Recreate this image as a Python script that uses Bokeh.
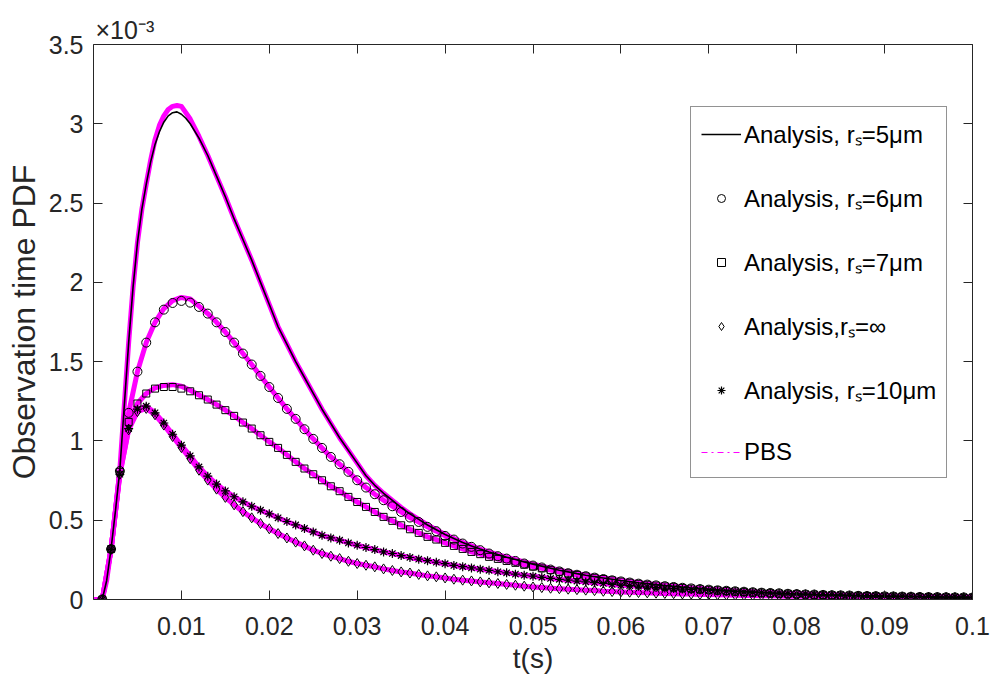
from bokeh.plotting import figure
from bokeh.models import Range1d, LinearAxis, FixedTicker, Legend, LegendItem
from bokeh.embed import file_html
from bokeh.resources import INLINE

# ---------------- data (PDF values in units of 1e-3) ----------------
t_ms = list(range(1, 101))            # marker sampling grid, ms
t = [v / 1000 for v in t_ms]
pbs_t_ms = list(range(0, 101))        # simulation grid, ms
pbs_t = [v / 1000 for v in pbs_t_ms]

# r_s = 5 um analysis curve (finer read-out over the steep rise and peak)
r5_t_ms = [1, 1.5, 2, 2.5, 3, 3.5, 4, 4.5, 5, 5.5, 6, 6.5, 7, 7.5, 8, 8.5, 9, 9.5, 10, 10.5,
           11, 12, 13, 14, 15, 16, 17, 18, 19, 20, 21, 22, 23, 24, 25, 26, 27, 28, 29, 30,
           31, 32, 33, 34, 35, 36, 37, 38, 39, 40, 41, 42, 43, 44, 45, 46, 47, 48, 49, 50,
           51, 52, 53, 54, 55, 56, 57, 58, 59, 60, 61, 62, 63, 64, 65, 66, 67, 68, 69, 70,
           71, 72, 73, 74, 75, 76, 77, 78, 79, 80, 81, 82, 83, 84, 85, 86, 87, 88, 89, 90,
           91, 92, 93, 94, 95, 96, 97, 98, 99, 100]
r5 = [0.000, 0.120, 0.320, 0.560, 0.820, 1.220, 1.620, 1.970, 2.250, 2.460,
      2.620, 2.760, 2.870, 2.950, 3.010, 3.050, 3.070, 3.075, 3.060, 3.035,
      3.000, 2.910, 2.800, 2.670, 2.540, 2.400, 2.270, 2.140, 2.000, 1.860,
      1.720, 1.610, 1.500, 1.400, 1.300, 1.200, 1.110, 1.020, 0.940, 0.860,
      0.780, 0.720, 0.670, 0.625, 0.580, 0.540, 0.505, 0.470, 0.440, 0.410,
      0.385, 0.360, 0.338, 0.318, 0.300, 0.283, 0.267, 0.252, 0.237, 0.223,
      0.210, 0.197, 0.185, 0.174, 0.163, 0.153, 0.144, 0.136, 0.128, 0.120,
      0.113, 0.106, 0.100, 0.094, 0.088, 0.083, 0.078, 0.073, 0.069, 0.065,
      0.061, 0.057, 0.054, 0.051, 0.048, 0.045, 0.042, 0.040, 0.037, 0.035,
      0.033, 0.031, 0.029, 0.028, 0.026, 0.025, 0.023, 0.022, 0.021, 0.020,
      0.019, 0.018, 0.017, 0.016, 0.015, 0.014, 0.014, 0.013, 0.012, 0.012]
r5_t = [v / 1000 for v in r5_t_ms]

r6 = [0.000, 0.318, 0.810, 1.177, 1.437, 1.620, 1.748, 1.828, 1.870, 1.883,
      1.872, 1.845, 1.803, 1.748, 1.687, 1.620, 1.551, 1.482, 1.410, 1.340,
      1.271, 1.202, 1.139, 1.074, 1.013, 0.956, 0.899, 0.853, 0.805, 0.752,
      0.706, 0.664, 0.626, 0.588, 0.552, 0.517, 0.489, 0.458, 0.431, 0.401,
      0.378, 0.353, 0.332, 0.311, 0.290, 0.273, 0.258, 0.243, 0.227, 0.214,
      0.202, 0.189, 0.177, 0.166, 0.156, 0.147, 0.138, 0.129, 0.121, 0.114,
      0.107, 0.100, 0.094, 0.089, 0.084, 0.079, 0.074, 0.070, 0.066, 0.062,
      0.058, 0.055, 0.052, 0.049, 0.046, 0.043, 0.041, 0.039, 0.036, 0.034,
      0.032, 0.031, 0.029, 0.027, 0.026, 0.025, 0.023, 0.022, 0.021, 0.020,
      0.019, 0.018, 0.017, 0.016, 0.015, 0.015, 0.014, 0.013, 0.013, 0.012]

r7 = [0.000, 0.318, 0.805, 1.120, 1.236, 1.299, 1.330, 1.340, 1.340, 1.330,
      1.313, 1.288, 1.261, 1.229, 1.194, 1.158, 1.116, 1.078, 1.036, 0.994,
      0.956, 0.912, 0.868, 0.826, 0.790, 0.752, 0.714, 0.683, 0.647, 0.615,
      0.584, 0.552, 0.521, 0.496, 0.468, 0.443, 0.420, 0.395, 0.378, 0.357,
      0.338, 0.319, 0.300, 0.286, 0.269, 0.256, 0.243, 0.231, 0.219, 0.207,
      0.196, 0.185, 0.175, 0.165, 0.155, 0.146, 0.137, 0.129, 0.121, 0.113,
      0.106, 0.099, 0.093, 0.088, 0.083, 0.078, 0.073, 0.069, 0.065, 0.061,
      0.058, 0.054, 0.051, 0.048, 0.045, 0.043, 0.040, 0.038, 0.036, 0.034,
      0.032, 0.030, 0.029, 0.027, 0.026, 0.024, 0.023, 0.022, 0.021, 0.020,
      0.019, 0.018, 0.017, 0.016, 0.015, 0.014, 0.014, 0.013, 0.012, 0.012]

r_inf = [0.000, 0.316, 0.790, 1.070, 1.185, 1.205, 1.165, 1.100, 1.028, 0.958,
         0.888, 0.815, 0.753, 0.696, 0.644, 0.597, 0.554, 0.515, 0.479, 0.446,
         0.416, 0.388, 0.362, 0.338, 0.311, 0.290, 0.273, 0.258, 0.241, 0.227,
         0.216, 0.206, 0.193, 0.183, 0.174, 0.167, 0.158, 0.149, 0.143, 0.136,
         0.128, 0.122, 0.117, 0.111, 0.105, 0.101, 0.095, 0.090, 0.084, 0.079,
         0.075, 0.071, 0.068, 0.065, 0.062, 0.059, 0.056, 0.052, 0.050, 0.048,
         0.046, 0.044, 0.042, 0.040, 0.038, 0.037, 0.035, 0.034, 0.032, 0.031,
         0.030, 0.028, 0.027, 0.026, 0.025, 0.024, 0.023, 0.022, 0.021, 0.021,
         0.020, 0.019, 0.018, 0.018, 0.017, 0.016, 0.016, 0.015, 0.015, 0.014,
         0.014, 0.013, 0.013, 0.012, 0.012, 0.011, 0.011, 0.011, 0.010, 0.010]

r10 = [0.000, 0.316, 0.790, 1.078, 1.200, 1.219, 1.177, 1.113, 1.042, 0.973,
       0.906, 0.836, 0.778, 0.728, 0.685, 0.648, 0.616, 0.588, 0.563, 0.540,
       0.515, 0.492, 0.470, 0.448, 0.426, 0.405, 0.388, 0.374, 0.357, 0.342,
       0.328, 0.315, 0.300, 0.290, 0.277, 0.265, 0.254, 0.245, 0.235, 0.226,
       0.215, 0.207, 0.199, 0.191, 0.184, 0.175, 0.168, 0.160, 0.153, 0.147,
       0.140, 0.133, 0.127, 0.122, 0.116, 0.111, 0.106, 0.101, 0.095, 0.090,
       0.087, 0.084, 0.080, 0.076, 0.072, 0.069, 0.066, 0.063, 0.060, 0.057,
       0.055, 0.052, 0.050, 0.047, 0.045, 0.043, 0.041, 0.039, 0.037, 0.036,
       0.034, 0.033, 0.031, 0.030, 0.029, 0.027, 0.026, 0.025, 0.024, 0.023,
       0.022, 0.021, 0.020, 0.019, 0.019, 0.018, 0.017, 0.017, 0.016, 0.015]

# PBS (particle-based simulation) band centres
pbs_r5_t_ms = [0] + r5_t_ms
pbs_r5_t = [v / 1000 for v in pbs_r5_t_ms]
pbs_r5 = [0.000,
          0.000, 0.120, 0.320, 0.560, 0.820, 1.220, 1.620, 1.970, 2.250, 2.460,
          2.620, 2.770, 2.900, 2.990, 3.050, 3.090, 3.110, 3.115, 3.110, 3.070,
          3.030, 2.920, 2.800, 2.670, 2.540, 2.400, 2.270, 2.140, 2.000, 1.860,
          1.720, 1.610, 1.500, 1.400, 1.300, 1.200, 1.110, 1.020, 0.940, 0.860,
          0.780, 0.720, 0.670, 0.625, 0.580, 0.540, 0.505, 0.470, 0.440, 0.410,
          0.385, 0.360, 0.338, 0.318, 0.300, 0.283, 0.267, 0.252, 0.237, 0.223,
          0.210, 0.197, 0.185, 0.174, 0.163, 0.153, 0.144, 0.136, 0.128, 0.120,
          0.113, 0.106, 0.100, 0.094, 0.088, 0.083, 0.078, 0.073, 0.069, 0.065,
          0.061, 0.057, 0.054, 0.051, 0.048, 0.045, 0.042, 0.040, 0.037, 0.035,
          0.033, 0.031, 0.029, 0.028, 0.026, 0.025, 0.023, 0.022, 0.021, 0.020,
          0.019, 0.018, 0.017, 0.016, 0.015, 0.014, 0.014, 0.013, 0.012, 0.012]
pbs_r6 = [0.000,
          0.000, 0.318, 0.810, 1.177, 1.437, 1.620, 1.748, 1.835, 1.885, 1.905,
          1.895, 1.850, 1.803, 1.748, 1.687, 1.620, 1.551, 1.482, 1.410, 1.340,
          1.271, 1.202, 1.139, 1.074, 1.013, 0.956, 0.899, 0.853, 0.805, 0.752,
          0.706, 0.664, 0.626, 0.588, 0.552, 0.517, 0.489, 0.458, 0.431, 0.401,
          0.378, 0.353, 0.332, 0.311, 0.290, 0.273, 0.258, 0.243, 0.227, 0.214,
          0.202, 0.189, 0.177, 0.166, 0.156, 0.147, 0.138, 0.129, 0.121, 0.114,
          0.107, 0.100, 0.094, 0.089, 0.084, 0.079, 0.074, 0.070, 0.066, 0.062,
          0.058, 0.055, 0.052, 0.049, 0.046, 0.043, 0.041, 0.039, 0.036, 0.034,
          0.032, 0.031, 0.029, 0.027, 0.026, 0.025, 0.023, 0.022, 0.021, 0.020,
          0.019, 0.018, 0.017, 0.016, 0.015, 0.015, 0.014, 0.013, 0.013, 0.012]
pbs_r7 = [0.000,
          0.000, 0.318, 0.805, 1.120, 1.236, 1.299, 1.335, 1.350, 1.355, 1.345,
          1.320, 1.290, 1.261, 1.229, 1.194, 1.158, 1.116, 1.078, 1.036, 0.994,
          0.956, 0.912, 0.868, 0.826, 0.790, 0.752, 0.714, 0.683, 0.647, 0.615,
          0.584, 0.552, 0.521, 0.496, 0.468, 0.443, 0.420, 0.395, 0.378, 0.357,
          0.338, 0.319, 0.300, 0.286, 0.269, 0.256, 0.243, 0.231, 0.219, 0.207,
          0.196, 0.185, 0.175, 0.165, 0.155, 0.146, 0.137, 0.129, 0.121, 0.113,
          0.106, 0.099, 0.093, 0.088, 0.083, 0.078, 0.073, 0.069, 0.065, 0.061,
          0.058, 0.054, 0.051, 0.048, 0.045, 0.043, 0.040, 0.038, 0.036, 0.034,
          0.032, 0.030, 0.029, 0.027, 0.026, 0.024, 0.023, 0.022, 0.021, 0.020,
          0.019, 0.018, 0.017, 0.016, 0.015, 0.014, 0.014, 0.013, 0.012, 0.012]
pbs_r_inf = [0.000,
             0.000, 0.316, 0.790, 1.070, 1.185, 1.205, 1.165, 1.100, 1.028, 0.958,
             0.888, 0.815, 0.753, 0.696, 0.644, 0.597, 0.554, 0.515, 0.479, 0.446,
             0.416, 0.388, 0.362, 0.338, 0.311, 0.290, 0.273, 0.258, 0.241, 0.227,
             0.216, 0.206, 0.193, 0.183, 0.174, 0.167, 0.158, 0.149, 0.143, 0.136,
             0.128, 0.122, 0.117, 0.111, 0.105, 0.101, 0.095, 0.090, 0.084, 0.079,
             0.075, 0.071, 0.068, 0.065, 0.062, 0.059, 0.056, 0.052, 0.050, 0.048,
             0.046, 0.044, 0.042, 0.040, 0.038, 0.037, 0.035, 0.034, 0.032, 0.031,
             0.030, 0.028, 0.027, 0.026, 0.025, 0.024, 0.023, 0.022, 0.021, 0.021,
             0.020, 0.019, 0.018, 0.018, 0.017, 0.016, 0.016, 0.015, 0.015, 0.014,
             0.014, 0.013, 0.013, 0.012, 0.012, 0.011, 0.011, 0.011, 0.010, 0.010]
pbs_r10 = [0.000,
           0.000, 0.316, 0.790, 1.078, 1.200, 1.219, 1.177, 1.113, 1.042, 0.973,
           0.906, 0.836, 0.778, 0.728, 0.685, 0.648, 0.616, 0.588, 0.563, 0.540,
           0.515, 0.492, 0.470, 0.448, 0.426, 0.405, 0.388, 0.374, 0.357, 0.342,
           0.328, 0.315, 0.300, 0.290, 0.277, 0.265, 0.254, 0.245, 0.235, 0.226,
           0.215, 0.207, 0.199, 0.191, 0.184, 0.175, 0.168, 0.160, 0.153, 0.147,
           0.140, 0.133, 0.127, 0.122, 0.116, 0.111, 0.106, 0.101, 0.095, 0.090,
           0.087, 0.084, 0.080, 0.076, 0.072, 0.069, 0.066, 0.063, 0.060, 0.057,
           0.055, 0.052, 0.050, 0.047, 0.045, 0.043, 0.041, 0.039, 0.037, 0.036,
           0.034, 0.033, 0.031, 0.030, 0.029, 0.027, 0.026, 0.025, 0.024, 0.023,
           0.022, 0.021, 0.020, 0.019, 0.019, 0.018, 0.017, 0.017, 0.016, 0.015]

x_ticks = [0.01, 0.02, 0.03, 0.04, 0.05, 0.06, 0.07, 0.08, 0.09, 0.1]
x_tick_labels = ["0.01", "0.02", "0.03", "0.04", "0.05", "0.06", "0.07", "0.08", "0.09", "0.1"]
y_ticks = [0.0, 0.5, 1.0, 1.5, 2.0, 2.5, 3.0, 3.5]
y_tick_labels = ["0", "0.5", "1", "1.5", "2", "2.5", "3", "3.5"]

legend_labels = ["Analysis, r\u209b=5\u03bcm", "Analysis, r\u209b=6\u03bcm", "Analysis, r\u209b=7\u03bcm",
                 "Analysis,r\u209b=\u221e", "Analysis, r\u209b=10\u03bcm", "PBS"]

# ---------------- styling ----------------
FONT = "Liberation Sans"
AX = "#262626"
MAG = "#FF00FF"

p = figure(width=992, height=681, x_range=Range1d(0, 0.1), y_range=Range1d(0, 3.5),
           output_backend="svg", toolbar_location=None,
           min_border_left=93, min_border_right=20, min_border_top=44, min_border_bottom=82,
           background_fill_color="white", border_fill_color="white")
p.outline_line_color = None
p.xgrid.visible = False
p.ygrid.visible = False

# exponent of the y axis, as a left-aligned title above the frame
p.title.text = "\u00d710\u207b\u00b3"
p.title.align = "left"
p.title.offset = 2
p.title.standoff = 2
p.title.text_font = FONT
p.title.text_font_size = "25px"
p.title.text_font_style = "normal"
p.title.text_color = AX


def style_axis(ax, ticks, labels, show_labels=True):
    ax.ticker = FixedTicker(ticks=ticks)
    ax.axis_line_color = AX
    ax.axis_line_width = 1
    ax.major_tick_line_color = AX
    ax.major_tick_in = 9
    ax.major_tick_out = 0
    ax.minor_tick_line_color = None
    if show_labels:
        ax.major_label_overrides = dict(zip(ticks, labels))
        ax.major_label_text_font = FONT
        ax.major_label_text_color = AX
        ax.major_label_text_font_size = "25px"
    else:
        ax.major_label_text_font_size = "1px"
        ax.major_label_text_color = None
        ax.major_label_standoff = 0


xa = p.xaxis[0]
style_axis(xa, x_ticks, x_tick_labels)
xa.major_label_standoff = 17
xa.axis_label = "t(s)"
xa.axis_label_text_font = FONT
xa.axis_label_text_font_size = "28px"
xa.axis_label_text_font_style = "normal"
xa.axis_label_text_color = AX
xa.axis_label_standoff = 5

ya = p.yaxis[0]
style_axis(ya, y_ticks, y_tick_labels)
ya.major_label_standoff = 10
ya.axis_label = "Observation time PDF"
ya.axis_label_text_font = FONT
ya.axis_label_text_font_size = "32px"
ya.axis_label_text_font_style = "normal"
ya.axis_label_text_color = AX
ya.axis_label_standoff = 4

top_ax = LinearAxis()
style_axis(top_ax, x_ticks, x_tick_labels, show_labels=False)
p.add_layout(top_ax, "above")
right_ax = LinearAxis()
style_axis(right_ax, y_ticks, y_tick_labels, show_labels=False)
p.add_layout(right_ax, "right")

# ---------------- PBS bands (drawn first, beneath markers) ----------------
for ts, series in ((pbs_t, pbs_r_inf), (pbs_t, pbs_r10), (pbs_t, pbs_r7),
                   (pbs_t, pbs_r6), (pbs_r5_t, pbs_r5)):
    p.line(ts, series, line_color=MAG, line_width=5, line_join="round")
# thin dash-dot PBS trace (hidden in its band, shown as the legend sample)
pbs_leg = p.line(pbs_r5_t, pbs_r5, line_color=MAG, line_width=1, line_dash="dashdot")

# ---------------- analysis ----------------
l5 = p.line(r5_t, r5, line_color="black", line_width=1.6)
s6 = p.scatter(t, r6, marker="circle", size=9, fill_color=None, line_color="black", line_width=1)
s7 = p.scatter(t, r7, marker="square", size=7, fill_color=None, line_color="black", line_width=1)
sinf = p.scatter(t, r_inf, marker="diamond", size=10, fill_color=None, line_color="black", line_width=1)
s10 = p.scatter(t, r10, marker="asterisk", size=9, fill_color=None, line_color="black", line_width=1.2)

legend = Legend(items=[LegendItem(label=lab, renderers=[r]) for lab, r in
                       zip(legend_labels, [l5, s6, s7, sinf, s10, pbs_leg])],
                location=(597, 121), margin=0, padding=10, spacing=31,
                glyph_width=40, glyph_height=20, label_height=30, label_standoff=3,
                label_text_font=FONT, label_text_font_size="24px", label_text_color="black",
                label_text_baseline="alphabetic",
                border_line_color=AX, border_line_width=1,
                background_fill_color="white", background_fill_alpha=1.0)
p.add_layout(legend)

open("out.html", "w").write(file_html(p, INLINE))
